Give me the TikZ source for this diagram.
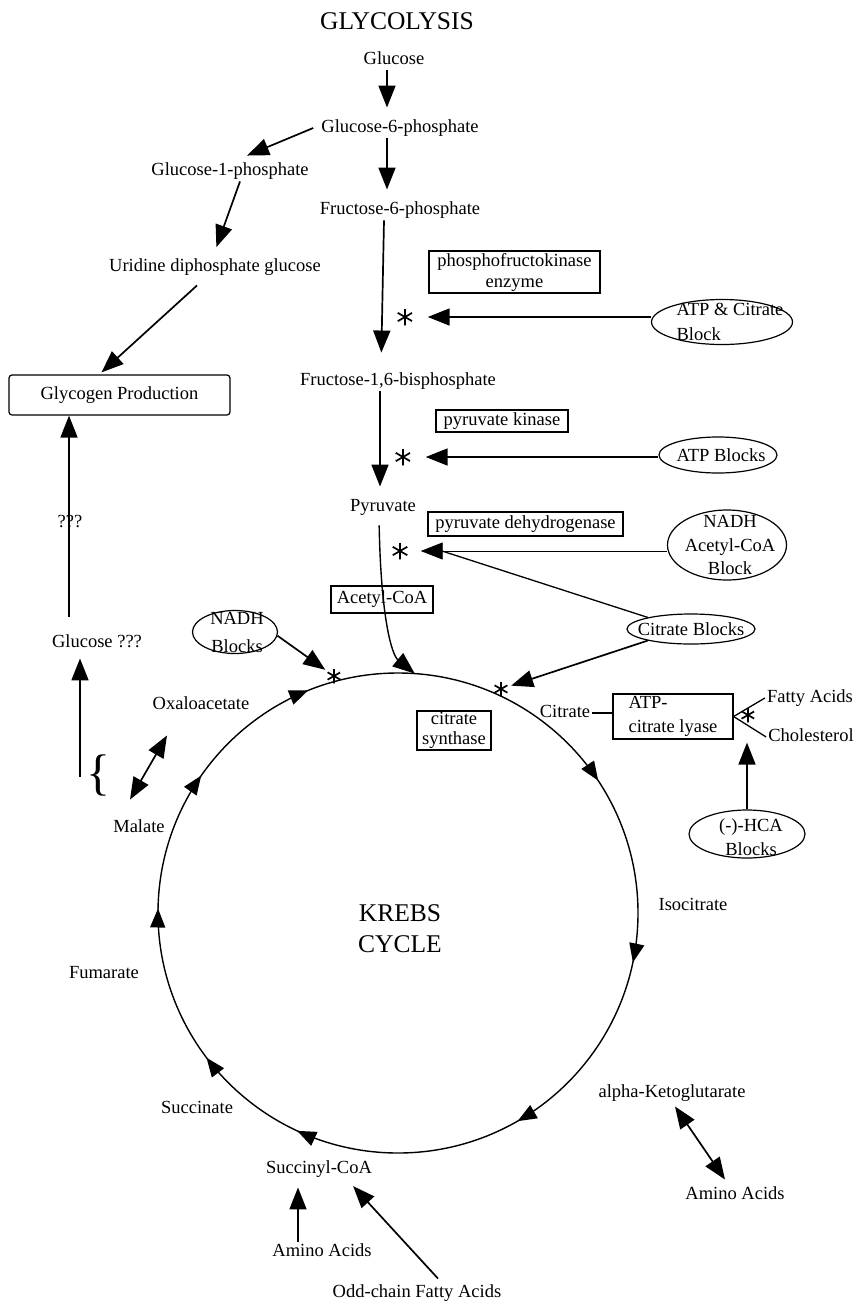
\documentclass[tikz,border=0pt]{standalone}
\usepackage{fontspec}
\setmainfont{Liberation Serif}
\usetikzlibrary{arrows.meta,shapes.geometric,calc,decorations.markings}
\begin{document}
\begin{tikzpicture}[x=1pt,y=1pt,
  fnt/.style={font=\fontsize{18.5}{20}\selectfont},
  lbl/.style={fnt, inner sep=2pt, text height=12.5pt, text depth=4pt},
  box/.style={draw, line width=1.2pt, inner sep=1pt, fnt},
  blob/.style={ellipse, draw, line width=1.2pt, inner sep=0pt},
  ttl/.style={font=\fontsize{25.5}{31}\selectfont, inner sep=0pt},
  arr/.style={line width=1.7pt, -{Triangle[length=22pt,width=17pt]}},
  darr/.style={line width=1.7pt, {Triangle[length=22pt,width=17pt]}-{Triangle[length=22pt,width=17pt]}},
  thinarr/.style={line width=0.9pt, -{Triangle[length=22pt,width=17pt]}},
  plain/.style={line width=1.3pt},
  cyc/.style={line width=1.4pt},
  ctip/.tip={Triangle[length=19pt,width=15pt]},
  astk/.style={circle, inner sep=0pt, minimum size=2*#1, path picture={
     \foreach \a in {90,30,150}
       \draw[line width=1.7pt] ($(path picture bounding box.center)+(\a:#1)$) -- ($(path picture bounding box.center)+(\a+180:#1)$);}},
  astk/.default=8.5pt
]
\fill[white] (0,0) rectangle (861,-1307);
\useasboundingbox (0,0) rectangle (861,-1307);

% ---------- glycolysis ----------
\node[ttl] (title) at (397,-21) {GLYCOLYSIS};
\node[lbl] (glc) at (394,-60) {Glucose};
\node[lbl] (g6p) at (400,-128) {Glucose-6-phosphate};
\node[lbl] (g1p) at (230,-171) {Glucose-1-phosphate};
\node[lbl] (f6p) at (400,-210) {Fructose-6-phosphate};
\node[lbl] (udp) at (215,-267) {Uridine diphosphate glucose};
\node[box, rounded corners=3pt, minimum width=221pt, minimum height=40pt] (glyc) at (119.5,-395) {Glycogen Production};
\node[box, align=center, font=\fontsize{18.5}{21}\selectfont, minimum width=171pt, minimum height=42pt] (pfk) at (514.5,-272) {phosphofructokinase\\enzyme};
\node[lbl] (f16) at (398,-381) {Fructose-1,6-bisphosphate};
\node[box, minimum width=132pt, minimum height=22pt] (pk) at (502,-421) {pyruvate kinase};
\node[lbl] (pyr) at (383,-507) {Pyruvate};
\node[box, minimum width=195pt, minimum height=24pt] (pdh) at (525.5,-524) {pyruvate dehydrogenase};
\node[box, minimum width=102pt, minimum height=27pt] (acoa) at (382,-599.5) {Acetyl-CoA};

\node[blob, minimum width=141pt, minimum height=45pt,
  label={[font=\fontsize{18.5}{25}\selectfont, align=left, xshift=8pt]center:ATP \& Citrate\\Block}] (atpc) at (722,-322) {};
\node[blob, minimum width=118pt, minimum height=36pt,
  label={[fnt, xshift=3pt]center:ATP Blocks}] (atpb) at (718,-455) {};
\node[blob, minimum width=119pt, minimum height=70pt,
  label={[font=\fontsize{18.5}{23.5}\selectfont, align=center, xshift=3pt]center:NADH\\Acetyl-CoA\\Block}] (nab) at (727,-545) {};
\node[blob, minimum width=128pt, minimum height=30pt,
  label={[fnt]center:Citrate Blocks}] (citb) at (691,-629) {};
\node[blob, minimum width=85pt, minimum height=43pt,
  label={[font=\fontsize{18.5}{28}\selectfont, align=center, xshift=2pt]center:NADH\\Blocks}] (nb) at (235,-632) {};
\node[blob, minimum width=116pt, minimum height=48pt,
  label={[font=\fontsize{18.5}{24}\selectfont, align=center, xshift=4pt, yshift=-3pt]center:(-)-HCA\\Blocks}] (hca) at (747,-834) {};

\node[astk] (ast1) at (405,-317) {};
\node[astk] (ast2) at (403,-457) {};
\node[astk] (ast3) at (400,-551) {};
\node[astk=7.5pt] (ast4) at (748,-715) {};
\node[astk=7.5pt] (ks1) at (334,-676) {};
\node[astk=7.5pt] (ks2) at (501,-689) {};

% ---------- left branch ----------
\node[lbl] (qq) at (70,-523) {???};
\node[lbl] (gq) at (97,-643) {Glucose ???};
\node[font=\fontsize{50}{50}\selectfont, inner sep=0pt] (brace) at (98,-775) {\{};
\coordinate (bst) at (80,-777);

% ---------- Krebs ----------
\coordinate (kc) at (398,-913);
\coordinate (kin) at ($(kc)+(86:240)$);
\node[ttl, align=center] (krebs) at (400,-929) {KREBS\\CYCLE};
\node[box, align=center, font=\fontsize{18.5}{20}\selectfont, minimum width=74pt, minimum height=39pt] (cs) at (454,-730.5) {citrate\\synthase};
\node[lbl] (cit) at (565,-713) {Citrate};
\node[box, align=left, font=\fontsize{18.5}{24}\selectfont, minimum width=120pt, minimum height=45pt] (acl) at (673,-716.5) {ATP-\\citrate lyase};
\node[lbl] (fa) at (810,-698) {Fatty Acids};
\node[lbl] (chol) at (811,-737) {Cholesterol};
\node[lbl] (oxa) at (201,-705) {Oxaloacetate};
\node[lbl] (mal) at (139,-828) {Malate};
\node[lbl] (fum) at (104,-974) {Fumarate};
\node[lbl] (suc) at (197,-1109) {Succinate};
\node[lbl] (sca) at (319,-1169) {Succinyl-CoA};
\node[lbl] (aa1) at (322,-1252) {Amino Acids};
\node[lbl] (odd) at (417,-1293) {Odd-chain Fatty Acids};
\node[lbl] (akg) at (672,-1093) {alpha-Ketoglutarate};
\node[lbl] (aa2) at (735,-1195) {Amino Acids};
\node[lbl] (iso) at (693,-906) {Isocitrate};
\coordinate (pdhj) at (442,-551);

% ---------- connectors ----------
\draw[arr, shorten >=10pt] ([xshift=-7pt]glc.south) -- ([xshift=-13pt]g6p.north);
\draw[arr, shorten >=10pt] ([xshift=-13pt]g6p.south) -- ([xshift=-13pt]f6p.north);
\draw[arr, shorten >=18pt] ([xshift=-16pt]f6p.south) -- ([xshift=-17pt]f16.north);
\draw[arr, shorten >=10pt] ([xshift=-18pt]f16.south) -- ([xshift=-3pt]pyr.north);
\draw[arr] ([xshift=-6pt]g6p.west) -- ([xshift=17pt,yshift=5pt]g1p.north);
\draw[arr, shorten >=10pt] ([xshift=10pt]g1p.south) -- ([xshift=-2pt]udp.north);
\draw[arr] ([xshift=-18pt,yshift=-8pt]udp.south) -- ([xshift=-18pt,yshift=2pt]glyc.north);
\draw[arr, shorten <=16pt] ([xshift=-28pt]gq.north) -- ([xshift=-50.5pt]glyc.south);
\draw[arr, shorten >=5pt] (bst) -- (bst |- gq.south);
\draw[darr] ([shift={(-9pt,18pt)}]mal.north) -- ([shift={(-34pt,-20pt)}]oxa.south);
\draw[arr, shorten >=8pt] ([xshift=-24pt]aa1.north) -- ([xshift=-21pt]sca.south);
\draw[arr, shorten >=9pt] ([xshift=21pt,yshift=4pt]odd.north) -- ([xshift=28pt]sca.south);
\draw[darr] ([xshift=3pt,yshift=-3pt]akg.south) -- ([xshift=-10pt,yshift=5pt]aa2.north);

\draw[arr, shorten >=14pt] (atpc.west |- ast1) -- (ast1);
\draw[arr, shorten >=14pt] (atpb.west |- ast2) -- (ast2);
\draw[thinarr, shorten >=12pt] (nab.west |- ast3) -- (ast3);
\draw[plain] (citb.165) -- (pdhj);
\draw[arr, shorten >=3pt] (citb.195) -- (ks2);
\draw[arr, shorten >=3pt] (nb.-5) -- (ks1);
\draw[plain] (cit.east) -- (acl.west |- cit.east);
\draw[plain] (acl.east) -- (fa.west);
\draw[plain] (acl.east) -- (chol.west);
\draw[arr, shorten >=3pt] (hca.north) -- (hca.north |- acl.south);

\draw[arr, line width=1.4pt, shorten <=8pt] ([xshift=-4pt]pyr.south) .. controls (381,-620) and (392,-655) .. (kin);

\draw[cyc, postaction={decorate}, decoration={markings,
  mark=at position 0.157 with {\arrow{ctip}},
  mark=at position 0.283 with {\arrow{ctip}},
  mark=at position 0.417 with {\arrow{ctip}},
  mark=at position 0.569 with {\arrow{ctip}},
  mark=at position 0.647 with {\arrow{ctip}},
  mark=at position 0.753 with {\arrow{ctip}},
  mark=at position 0.847 with {\arrow{ctip}},
  mark=at position 0.939 with {\arrow{ctip}}}]
  ($(kc)+(90:240)$) arc[start angle=90, end angle=-270, radius=240];
\end{tikzpicture}
\end{document}
